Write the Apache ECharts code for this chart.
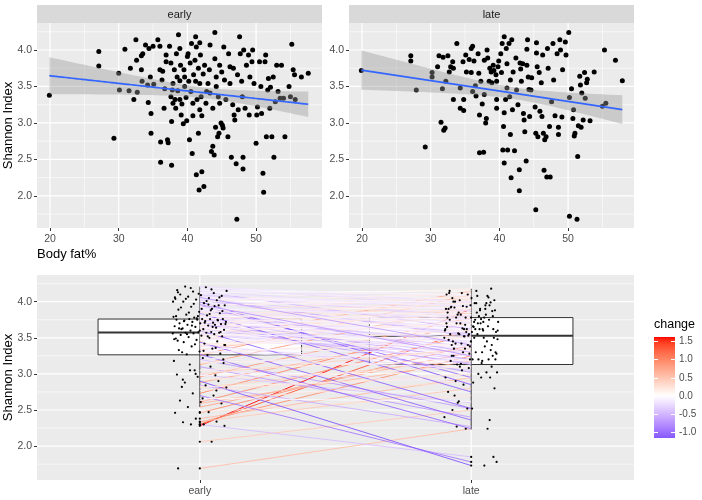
<!DOCTYPE html>
<html><head><meta charset="utf-8">
<script src="https://cdn.jsdelivr.net/npm/echarts@6/dist/echarts.min.js"></script>
<style>html,body{margin:0;padding:0;background:#fff}#c{width:702px;height:500px}</style>
</head><body><div id="c"></div>
<script>
// ---------------- DATA ----------------
const facetNames = ['early', 'late'];
const earlyPoints = [[19.9,3.38],[27.1,3.98],[27.1,3.78],[29.3,2.79],[30.0,3.68],[30.1,3.45],[30.9,4.01],[31.5,3.44],[31.7,3.75],[32.2,3.32],[32.5,4.14],[32.6,3.86],[32.7,3.42],[33.3,3.92],[33.3,3.73],[33.4,3.57],[33.5,3.95],[33.9,4.07],[34.2,3.52],[34.3,3.28],[34.4,4.02],[34.6,3.63],[34.7,3.13],[34.7,2.86],[35.0,4.05],[35.1,3.53],[35.7,4.14],[36.0,4.05],[36.0,3.73],[36.1,2.74],[36.1,2.46],[36.3,3.59],[36.4,3.71],[36.6,3.20],[36.7,3.47],[36.9,3.93],[36.9,3.84],[37.1,2.77],[37.2,2.73],[37.4,4.05],[37.6,3.82],[37.6,3.36],[37.7,3.02],[37.7,2.42],[37.8,3.45],[37.9,3.27],[38.1,3.73],[38.2,3.32],[38.3,3.20],[38.4,3.95],[38.5,3.63],[38.6,3.44],[38.7,4.21],[38.9,4.02],[38.9,3.58],[39.0,3.79],[39.1,3.11],[39.2,3.26],[39.4,2.99],[39.5,3.73],[39.6,3.63],[39.6,3.50],[39.8,3.35],[39.9,3.03],[40.1,3.95],[40.2,3.57],[40.3,2.77],[40.4,3.82],[40.5,3.43],[40.6,4.09],[40.7,2.58],[40.8,3.10],[40.8,3.27],[40.9,3.66],[41.1,3.86],[41.2,3.57],[41.3,4.04],[41.3,2.29],[41.4,3.32],[41.6,3.75],[41.6,2.86],[41.7,2.08],[41.8,4.10],[41.8,3.54],[41.9,3.93],[42.0,3.36],[42.1,3.10],[42.1,2.33],[42.3,3.67],[42.4,2.13],[42.5,3.79],[42.7,3.27],[42.8,3.43],[43.0,3.54],[43.2,3.73],[43.3,4.07],[43.5,2.61],[43.7,3.20],[43.7,2.68],[43.9,2.56],[44.0,3.88],[44.0,4.24],[44.1,2.94],[44.2,3.63],[44.2,3.50],[44.4,2.81],[44.5,3.36],[44.6,2.86],[44.7,3.79],[44.9,3.00],[45.0,3.70],[45.1,2.97],[45.2,2.93],[45.3,4.04],[45.4,3.59],[45.6,3.32],[45.9,2.81],[46.0,3.95],[46.2,3.54],[46.4,2.53],[46.6,3.25],[46.7,3.75],[46.8,3.11],[46.9,3.04],[47.1,2.44],[47.2,1.68],[47.3,3.66],[47.4,3.18],[47.6,4.18],[47.7,3.95],[47.9,3.57],[48.0,3.36],[48.1,2.37],[48.1,2.53],[48.2,4.00],[48.4,3.20],[48.6,3.79],[48.9,3.93],[49.0,3.11],[49.1,3.63],[49.4,3.84],[49.5,4.00],[49.7,3.54],[50.0,2.72],[50.1,3.11],[50.2,3.22],[50.5,3.84],[50.7,3.50],[50.8,3.13],[51.0,2.31],[51.1,2.05],[51.3,3.84],[51.4,3.93],[51.5,2.81],[51.7,3.45],[51.8,3.61],[52.0,3.20],[52.1,3.49],[52.3,2.81],[52.5,3.63],[52.6,2.53],[52.8,3.29],[53.0,3.79],[53.2,3.43],[53.5,3.34],[53.7,3.79],[54.0,3.34],[54.2,2.81],[54.8,3.50],[55.0,3.36],[55.2,4.08],[55.4,3.73],[55.6,3.66],[55.7,3.32],[56.6,3.63],[57.6,3.68],[40.0,3.91],[41.2,4.18],[37.9,3.54],[38.9,3.32],[41.8,3.18],[43.3,3.41],[44.7,3.27],[46.2,3.77]];
const latePoints = [[19.9,3.72],[27.1,3.92],[27.1,3.85],[27.9,3.45],[29.2,2.67],[30.2,3.69],[30.2,3.63],[31.0,3.77],[31.2,3.92],[31.5,3.01],[31.7,3.47],[31.8,3.90],[31.9,2.90],[32.1,2.93],[32.2,3.57],[32.5,3.92],[32.7,3.70],[32.9,3.77],[33.2,3.84],[33.3,3.75],[33.3,3.32],[33.8,4.09],[34.3,3.48],[34.3,3.20],[34.7,3.84],[34.8,3.32],[34.8,3.17],[35.1,3.93],[35.2,3.70],[35.6,3.87],[35.9,4.02],[35.9,3.69],[36.1,4.05],[36.1,3.43],[36.3,3.85],[36.5,3.51],[36.6,3.37],[36.9,3.95],[37.0,3.68],[37.1,3.11],[37.1,2.59],[37.3,3.57],[37.5,3.26],[37.7,2.60],[37.8,3.86],[37.8,3.39],[38.0,3.00],[38.1,3.06],[38.2,4.00],[38.3,3.89],[38.5,3.57],[38.6,3.75],[38.8,3.70],[38.9,3.55],[39.1,3.79],[39.2,3.72],[39.5,3.66],[39.6,3.32],[39.6,3.20],[39.6,3.57],[39.8,3.77],[39.9,3.85],[40.2,3.95],[40.3,3.69],[40.4,4.09],[40.5,2.63],[40.6,2.95],[40.7,4.18],[40.7,2.45],[40.7,3.14],[40.9,3.32],[41.0,4.02],[41.1,3.81],[41.1,3.48],[41.2,2.63],[41.4,4.09],[41.5,3.36],[41.6,3.59],[41.6,2.84],[41.7,2.25],[41.8,4.14],[41.9,3.18],[42.0,3.70],[42.2,2.62],[42.4,3.89],[42.5,3.45],[42.7,3.25],[42.9,2.36],[42.9,2.07],[43.0,3.82],[43.1,3.74],[43.2,3.57],[43.4,3.81],[43.5,3.13],[43.6,3.04],[43.7,2.88],[43.9,2.48],[44.0,3.79],[44.0,4.01],[44.1,4.14],[44.2,3.63],[44.3,3.46],[44.4,3.09],[44.6,3.45],[44.7,3.62],[45.2,3.22],[45.3,2.86],[45.3,1.81],[45.4,4.10],[45.4,3.96],[45.5,3.77],[45.6,2.81],[45.8,3.69],[45.9,3.16],[46.1,3.55],[46.2,3.09],[46.3,3.93],[46.4,2.86],[46.5,2.35],[46.6,2.77],[46.8,2.81],[46.9,2.26],[47.0,4.02],[47.1,3.75],[47.3,2.95],[47.4,2.26],[47.6,3.29],[47.8,4.09],[47.9,3.59],[48.1,3.10],[48.4,3.95],[48.6,2.94],[48.6,2.84],[48.8,4.14],[48.9,4.00],[49.1,3.08],[49.2,3.73],[49.6,4.11],[49.7,3.93],[50.1,4.24],[50.2,3.35],[50.2,1.72],[50.5,3.47],[50.7,3.06],[50.8,3.18],[50.9,2.82],[51.0,2.86],[51.3,1.68],[51.4,2.54],[51.5,2.96],[51.7,3.64],[51.8,3.52],[51.9,2.94],[52.0,3.41],[52.2,3.04],[52.4,3.69],[52.5,3.34],[52.7,3.55],[52.8,3.60],[53.2,3.03],[53.8,3.70],[55.0,3.23],[55.3,4.00],[55.5,3.27],[56.9,3.86],[57.9,3.58]];
// paired subjects: [early Shannon, late Shannon]
const subjects = [[1.69,2.24],[2.06,2.50],[2.30,1.85],[2.28,3.90],[2.30,3.62],[2.33,3.25],[2.34,2.80],[2.38,2.95],[2.46,3.40],[2.47,2.70],[2.54,3.30],[2.59,3.18],[2.61,3.55],[2.63,2.90],[2.70,1.78],[2.73,3.72],[2.81,3.20],[2.84,2.27],[2.88,3.60],[2.90,1.73],[2.96,3.78],[2.99,2.60],[3.10,2.40],[3.13,3.95],[3.20,2.52],
[2.66,2.62],[2.82,2.95],[2.98,3.02],[3.05,2.88],[3.18,3.10],
[3.26,4.10],[3.27,2.24],[3.28,3.50],[3.31,3.14],[3.33,3.85],[3.35,3.20],[3.38,3.62],[3.40,3.05],[3.42,3.47],[3.44,2.36],[3.45,4.15],[3.47,3.30],[3.49,3.75],[3.50,3.33],[3.51,3.55],[3.52,3.62],[3.53,3.92],[3.54,3.40],[3.55,3.20],[3.56,3.68],[3.56,3.25],[3.57,3.80],[3.57,3.62],[3.57,3.58],[3.575,3.45],[3.46,3.50],
[3.58,3.70],[3.60,2.52],[3.61,3.35],[3.62,3.88],[3.63,3.15],[3.64,3.53],[3.65,4.00],[3.66,3.58],[3.67,3.62],[3.68,3.28],[3.69,3.78],[3.70,3.02],[3.70,3.50],[3.71,3.95],[3.72,3.13],[3.72,3.72],[3.73,3.38],[3.74,4.05],[3.74,3.56],[3.75,3.60],[3.75,3.82],[3.76,3.20],[3.76,3.55],[3.76,3.90],[3.76,3.45],[3.62,3.65],[3.68,3.70],
[3.78,3.65],[3.79,3.66],[3.81,3.98],[3.82,3.42],[3.84,2.75],[3.86,3.75],[3.89,3.30],[3.90,3.63],[3.93,4.12],[3.95,2.95],[3.98,3.85],[4.00,2.85],[4.02,3.55],[4.03,4.18],[4.04,3.70],[4.05,3.52],[4.07,3.93],[4.08,3.87],[4.09,3.80],[4.10,3.78],[4.12,4.05],[4.14,3.62],[4.15,3.88],[4.20,3.93],[4.21,4.00],[3.95,4.02],[3.80,3.76],[4.16,4.10],[3.88,3.92],
[3.05,3.20],[3.15,3.30],[3.22,3.08],[3.30,3.42],[3.36,3.28],[3.41,3.60],[3.48,3.38],[3.52,3.70],[3.55,3.48],[3.58,3.78],[3.60,3.45],[3.63,3.82],[3.65,3.50],[3.67,3.90],[3.69,3.58],[3.71,3.85],[3.73,3.62],[3.75,3.98],[3.77,3.66],[3.80,4.02],[3.83,3.70],[3.85,4.08],[3.87,3.72],[3.90,3.82],[3.92,3.78],[3.94,4.06],[3.97,3.75],[4.00,4.12],[4.01,3.90],[4.04,3.95],[4.06,3.98],[4.11,3.94],[4.13,4.15],[4.17,3.99],[4.19,4.08],[3.40,3.52],[3.32,3.18],[2.92,3.10],[2.77,3.00],[3.00,3.35],[4.06,3.40],[3.96,3.25]];
// boxplot statistics: [lower whisker, Q1, median, Q3, upper whisker]
const boxEarly = [2.54, 3.264, 3.575, 3.76, 4.21];
const boxLate  = [2.23, 3.13, 3.53, 3.78, 4.18];
const fatTicks = [20, 30, 40, 50];
const fatMinor = [25, 35, 45, 55];
const shTicks = [2.0, 2.5, 3.0, 3.5, 4.0];
const shMinor = [1.75, 2.25, 2.75, 3.25, 3.75, 4.25];
const changeTicks = [-1.0, -0.5, 0.0, 0.5, 1.0, 1.5];

// ---------------- helpers ----------------
const FONT = "'Liberation Sans', Arial, Helvetica, sans-serif";
const X1 = [18.1, 59.6], Y1 = [1.56, 4.37];
const X2 = [0.4, 2.6], Y2 = [1.53, 4.37];

function lin(c){c/=255;return c<=0.04045?c/12.92:Math.pow((c+0.055)/1.055,2.4);}
function gam(c){c=c<=0.0031308?12.92*c:1.055*Math.pow(c,1/2.4)-0.055;return Math.max(0,Math.min(255,Math.round(c*255)));}
function toLab(rgb){const r=lin(rgb[0]),g=lin(rgb[1]),b=lin(rgb[2]);
 let X=(0.4124564*r+0.3575761*g+0.1804375*b)/0.95047,Y=(0.2126729*r+0.7151522*g+0.0721750*b),Z=(0.0193339*r+0.1191920*g+0.9503041*b)/1.08883;
 const f=t=>t>0.008856?Math.cbrt(t):7.787*t+16/116;const fx=f(X),fy=f(Y),fz=f(Z);
 return [116*fy-16,500*(fx-fy),200*(fy-fz)];}
function fromLab(L){const fy=(L[0]+16)/116,fx=fy+L[1]/500,fz=fy-L[2]/200;
 const fi=t=>{const t3=t*t*t;return t3>0.008856?t3:(t-16/116)/7.787;};
 const X=fi(fx)*0.95047,Y=fi(fy),Z=fi(fz)*1.08883;
 const r=3.2404542*X-1.5371385*Y-0.4985314*Z,g=-0.9692660*X+1.8760108*Y+0.0415560*Z,b=0.0556434*X-0.2040259*Y+1.0572252*Z;
 return 'rgb('+gam(r)+','+gam(g)+','+gam(b)+')';}
const LAB_W=toLab([255,255,255]), LAB_R=toLab([255,0,0]), LAB_B=toLab([0,0,255]);
const changes = subjects.map(s => s[1]-s[0]);
const cMin = Math.min(...changes), cMax = Math.max(...changes);
const cM = Math.max(Math.abs(cMin), Math.abs(cMax));
function changeColor(v){const t=Math.min(1,Math.abs(v)/cM);const e=v>=0?LAB_R:LAB_B;
 return fromLab([LAB_W[0]+(e[0]-LAB_W[0])*t,LAB_W[1]+(e[1]-LAB_W[1])*t,LAB_W[2]+(e[2]-LAB_W[2])*t]);}

function lmBand(pts){const n=pts.length;let mx=0,my=0;pts.forEach(p=>{mx+=p[0];my+=p[1];});mx/=n;my/=n;
 let sxx=0,sxy=0;pts.forEach(p=>{sxx+=(p[0]-mx)**2;sxy+=(p[0]-mx)*(p[1]-my);});
 const b=sxy/sxx,a=my-b*mx;let sse=0;pts.forEach(p=>{sse+=(p[1]-a-b*p[0])**2;});
 const s=Math.sqrt(sse/(n-2)),t=1.97;const xs=pts.map(p=>p[0]);const lo=Math.min(...xs),hi=Math.max(...xs);
 const out=[];for(let i=0;i<80;i++){const x=lo+(hi-lo)*i/79;const yh=a+b*x;const se=s*Math.sqrt(1/n+(x-mx)**2/sxx);out.push([x,yh,yh-t*se,yh+t*se]);}
 return out;}

function vLines(gi, vals, yr, w){return {type:'custom',xAxisIndex:gi,yAxisIndex:gi,silent:true,clip:true,z:1,
 data:vals.map(v=>[v,yr[0]]),renderItem:(p,api)=>{const v=api.value(0);const a=api.coord([v,yr[0]]),b=api.coord([v,yr[1]]);
 return {type:'line',shape:{x1:a[0],y1:a[1],x2:b[0],y2:b[1]},style:{stroke:'#FFFFFF',lineWidth:w}};}};}
function hLines(gi, vals, xr, w){return {type:'custom',xAxisIndex:gi,yAxisIndex:gi,silent:true,clip:true,z:1,
 data:vals.map(v=>[xr[0],v]),renderItem:(p,api)=>{const v=api.value(1);const a=api.coord([xr[0],v]),b=api.coord([xr[1],v]);
 return {type:'line',shape:{x1:a[0],y1:a[1],x2:b[0],y2:b[1]},style:{stroke:'#FFFFFF',lineWidth:w}};}};}

function bandSeries(gi, band){return {type:'custom',xAxisIndex:gi,yAxisIndex:gi,silent:true,clip:true,z:3,data:[[40,3]],
 renderItem:(p,api)=>{const pts=[];band.forEach(b=>pts.push(api.coord([b[0],b[3]])));for(let i=band.length-1;i>=0;i--)pts.push(api.coord([band[i][0],band[i][2]]));
 return {type:'polygon',shape:{points:pts},style:{fill:'rgba(153,153,153,0.4)',stroke:'none'}};}};}
function fitSeries(gi, band){return {type:'line',xAxisIndex:gi,yAxisIndex:gi,silent:true,z:4,showSymbol:false,
 data:band.map(b=>[b[0],b[1]]),lineStyle:{color:'#3366FF',width:1.7},animation:false};}

const tickStyle = {show:true,length:3,lineStyle:{color:'#333333',width:1}};
const labStyle = {color:'#4D4D4D',fontSize:10.5,fontFamily:FONT};
function xAx(gi, ext, vals, fmt){return {type:'value',gridIndex:gi,min:ext[0],max:ext[1],axisLine:{show:false},splitLine:{show:false},
 axisTick:Object.assign({customValues:vals},tickStyle),axisLabel:Object.assign({customValues:vals,margin:6,formatter:fmt},labStyle)};}
function yAx(gi, ext){return {type:'value',gridIndex:gi,min:ext[0],max:ext[1],axisLine:{show:false},splitLine:{show:false},
 axisTick:Object.assign({customValues:shTicks},tickStyle),axisLabel:Object.assign({customValues:shTicks,margin:5,formatter:v=>v.toFixed(1)},labStyle)};}

const bandE = lmBand(earlyPoints), bandL = lmBand(latePoints);

// jitter offsets (deterministic, low-discrepancy)
const jitE = subjects.map((s,i)=>[1+((i*0.618034+0.1)%1-0.5)*0.2, s[0]]);
const jitL = subjects.map((s,i)=>[2+((i*0.754878+0.4)%1-0.5)*0.2, s[1]]);
const outl = [];
subjects.forEach(s=>{if(s[0]<boxEarly[0]||s[0]>boxEarly[4])outl.push([1,s[0]]);if(s[1]<boxLate[0]||s[1]>boxLate[4])outl.push([2,s[1]]);});

// ---------------- legend graphic ----------------
const CB = {x:654, y:337, w:21, h:101};
const cbY = v => CB.y + (cMax - v)/(cMax - cMin)*CB.h;
const stops = [];
for(let i=0;i<=40;i++){const v=cMax-(cMax-cMin)*i/40;stops.push({offset:i/40,color:changeColor(v)});}
const graphics = [
 {type:'rect',shape:{x:37,y:5,width:285,height:18},style:{fill:'#D9D9D9'}},
 {type:'rect',shape:{x:349,y:5,width:285,height:18},style:{fill:'#D9D9D9'}},
 {type:'text',x:179.5,y:14.5,style:{text:facetNames[0],fill:'#1A1A1A',font:'11px '+FONT,textAlign:'center',textVerticalAlign:'middle'}},
 {type:'text',x:491.5,y:14.5,style:{text:facetNames[1],fill:'#1A1A1A',font:'11px '+FONT,textAlign:'center',textVerticalAlign:'middle'}},
 {type:'text',x:8,y:125.5,rotation:Math.PI/2,style:{text:'Shannon Index',fill:'#000',font:'13px '+FONT,textAlign:'center',textVerticalAlign:'middle'}},
 {type:'text',x:8,y:377.5,rotation:Math.PI/2,style:{text:'Shannon Index',fill:'#000',font:'13px '+FONT,textAlign:'center',textVerticalAlign:'middle'}},
 {type:'text',x:37,y:254,style:{text:'Body fat%',fill:'#000',font:'13px '+FONT,textAlign:'left',textVerticalAlign:'middle'}},
 {type:'text',x:654,y:325,style:{text:'change',fill:'#000',font:'12.5px '+FONT,textAlign:'left',textVerticalAlign:'middle'}},
 {type:'rect',shape:{x:CB.x,y:CB.y,width:CB.w,height:CB.h},style:{fill:new echarts.graphic.LinearGradient(0,0,0,1,stops)}}
];
changeTicks.forEach(v=>{const y=Math.round(cbY(v))+0.5;
 graphics.push({type:'line',shape:{x1:CB.x,y1:y,x2:CB.x+4,y2:y},style:{stroke:'#FFFFFF',lineWidth:1}});
 graphics.push({type:'line',shape:{x1:CB.x+CB.w-4,y1:y,x2:CB.x+CB.w,y2:y},style:{stroke:'#FFFFFF',lineWidth:1}});
 graphics.push({type:'text',x:CB.x+CB.w+4,y:y,style:{text:v.toFixed(1),fill:'#4D4D4D',font:'10px '+FONT,textAlign:'left',textVerticalAlign:'middle'}});
});

// ---------------- chart ----------------
const chart = echarts.init(document.getElementById('c'), null, {renderer:'canvas'});
const bg = {show:true,backgroundColor:'#EBEBEB',borderWidth:0,borderColor:'transparent'};
const dot = {color:'#000000',opacity:1};
const option = {
 animation:false,
 grid:[Object.assign({left:37,top:23,width:285,height:205},bg),
       Object.assign({left:349,top:23,width:285,height:205},bg),
       Object.assign({left:37,top:275,width:597,height:205},bg)],
 xAxis:[xAx(0,X1,fatTicks,v=>String(v)), xAx(1,X1,fatTicks,v=>String(v)), xAx(2,X2,[1,2],v=>facetNames[Math.round(v)-1])],
 yAxis:[yAx(0,Y1), yAx(1,Y1), yAx(2,Y2)],
 graphic:graphics,
 series:[
  vLines(0,fatMinor,Y1,0.6), hLines(0,shMinor,X1,0.6), vLines(0,fatTicks,Y1,1.2), hLines(0,shTicks,X1,1.2),
  vLines(1,fatMinor,Y1,0.6), hLines(1,shMinor,X1,0.6), vLines(1,fatTicks,Y1,1.2), hLines(1,shTicks,X1,1.2),
  hLines(2,shMinor,X2,0.6), vLines(2,[1,2],Y2,1.2), hLines(2,shTicks,X2,1.2),
  {type:'scatter',xAxisIndex:0,yAxisIndex:0,z:2,symbolSize:5,data:earlyPoints,itemStyle:dot,silent:true},
  {type:'scatter',xAxisIndex:1,yAxisIndex:1,z:2,symbolSize:5,data:latePoints,itemStyle:dot,silent:true},
  bandSeries(0,bandE), fitSeries(0,bandE), bandSeries(1,bandL), fitSeries(1,bandL),
  {type:'custom',xAxisIndex:2,yAxisIndex:2,z:2,silent:true,clip:true,data:[[1].concat(boxEarly),[2].concat(boxLate)],
   renderItem:(p,api)=>{const x=api.value(0),lw=api.value(1),q1=api.value(2),md=api.value(3),q3=api.value(4),uw=api.value(5);const hw=0.375;
    const tl=api.coord([x-hw,q3]),br=api.coord([x+hw,q1]),m1=api.coord([x-hw,md]),m2=api.coord([x+hw,md]),w1=api.coord([x,uw]),w2=api.coord([x,lw]);
    return {type:'group',children:[
     {type:'rect',shape:{x:tl[0],y:tl[1],width:br[0]-tl[0],height:br[1]-tl[1]},style:{fill:'#FFFFFF',stroke:'#333333',lineWidth:1}},
     {type:'line',shape:{x1:m1[0],y1:m1[1],x2:m2[0],y2:m2[1]},style:{stroke:'#333333',lineWidth:2}},
     {type:'line',shape:{x1:w1[0],y1:w1[1],x2:w2[0],y2:w2[1]},style:{stroke:'#333333',lineWidth:1}}]};}},
  {type:'scatter',xAxisIndex:2,yAxisIndex:2,z:2,symbol:'circle',symbolSize:2.2,data:jitE.concat(jitL),itemStyle:dot,silent:true},
  {type:'scatter',xAxisIndex:2,yAxisIndex:2,z:2,symbol:'circle',symbolSize:2.2,data:outl,itemStyle:dot,silent:true},
  {type:'custom',xAxisIndex:2,yAxisIndex:2,z:2,silent:true,clip:true,data:subjects.map(s=>[s[0],s[1],s[1]-s[0]]),
   renderItem:(p,api)=>{const a=api.coord([1,api.value(0)]),b=api.coord([2,api.value(1)]);
    return {type:'line',shape:{x1:a[0],y1:a[1],x2:b[0],y2:b[1]},style:{stroke:changeColor(api.value(2)),lineWidth:0.9}};}}
 ]
};
chart.setOption(option);
</script></body></html>
